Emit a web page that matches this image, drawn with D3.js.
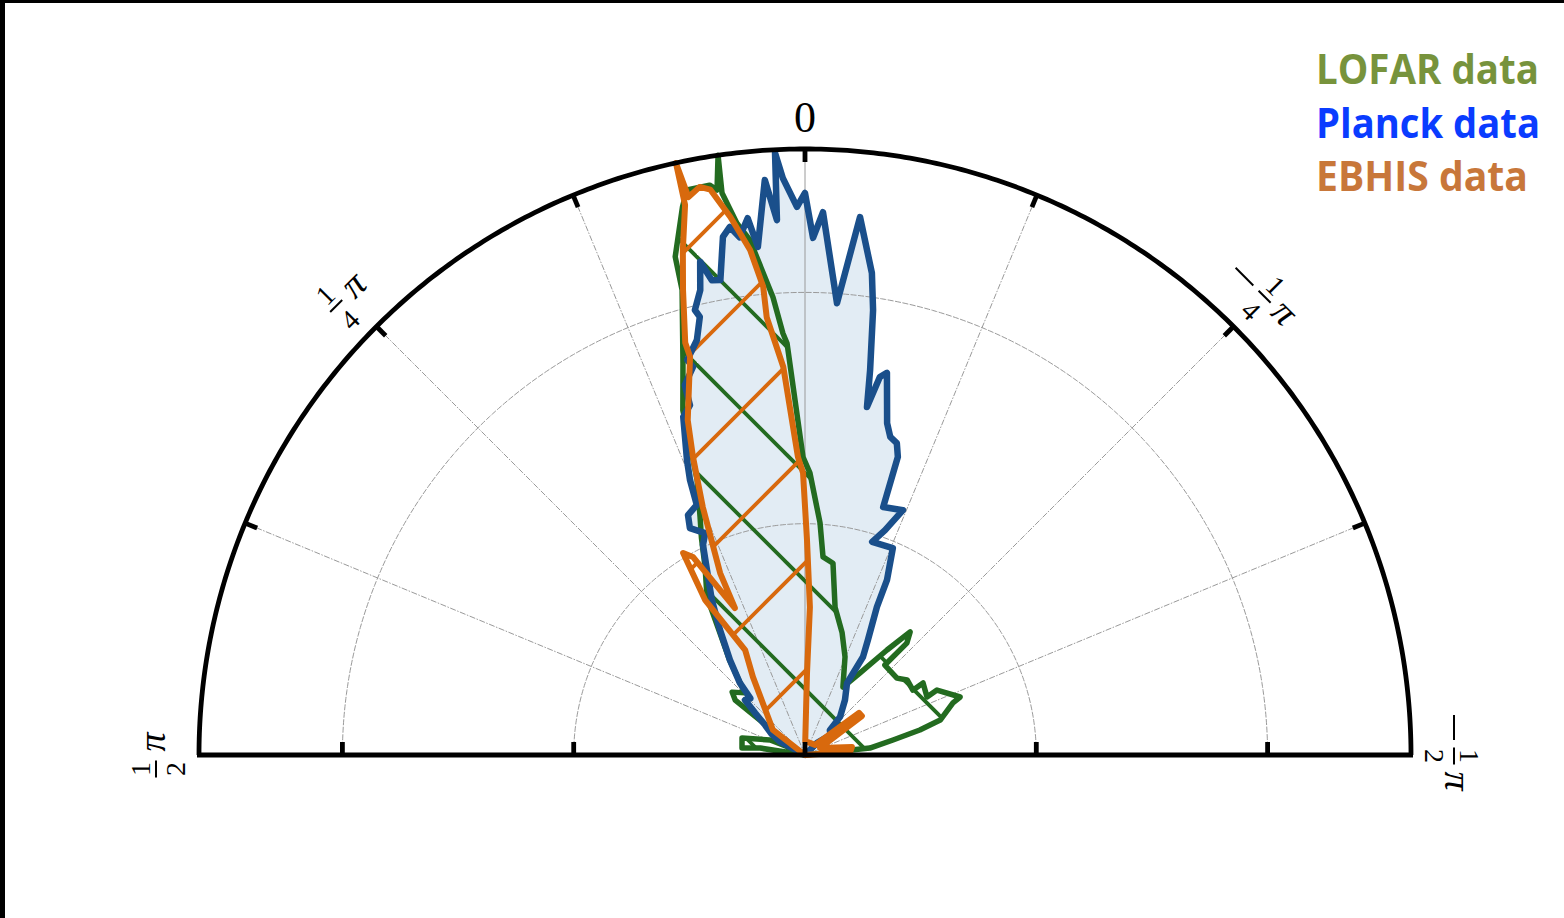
<!DOCTYPE html>
<html><head><meta charset="utf-8">
<script src="https://cdn.jsdelivr.net/npm/d3@7"></script>
<style>html,body{margin:0;padding:0;background:#fff;} svg{display:block}</style>
</head><body>
<svg id="chart" width="1564" height="918"></svg>
<script>
// ---------- DATA: [angle in degrees (positive = left of vertical), radius] ----------
const planck = [
 [0,0],[62,0.06],[58,0.085],[53.1,0.108],[50,0.14],[47.5,0.176],[44,0.17],[42.1,0.210],[38.3,0.262],[34.2,0.327],[31.0,0.391],
 [27.9,0.453],[25.9,0.505],[24.2,0.526],[26.9,0.550],[26.0,0.577],[23.4,0.589],[22.7,0.644],[21.8,0.687],
 [19.8,0.777],[18.2,0.796],[18.0,0.841],[16.1,0.873],[16.6,0.891],[14.6,0.927],[13.5,0.974],[13.9,0.991],
 [12.7,1.030],[12.0,1.090],[11.1,1.046],[10.1,1.043],[9.0,1.134],[8.1,1.153],[7.2,1.128],[6.1,1.167],
 [5.3,1.103],[4.0,1.246],[3.0,1.158],[2.85,1.303],[2.2,1.248],[0.84,1.185],[0,1.215],[-0.89,1.118],
 [-1.9,1.174],[-4.05,0.979],[-5.84,1.169],[-7.9,1.052],[-8.7,0.973],[-9.6,0.844],[-10.1,0.764],
 [-11.2,0.833],[-12.1,0.845],[-13.9,0.739],[-15.0,0.712],[-16.4,0.703],[-17.3,0.675],[-17.5,0.562],
 [-21.8,0.570],[-19.6,0.516],[-17.5,0.483],[-23.0,0.486],[-25.1,0.418],[-25.9,0.356],[-28.7,0.283],
 [-30.6,0.246],[-30.3,0.180],[-36,0.147],[-42.6,0.112],[-45,0.076],[-52,0.07],[-45,0.037],[0,0]
];
const lofar = [
 [0,0],[81.2,0.098],[83.7,0.137],[74.9,0.141],[66.8,0.082],[60,0.02],
 [51.8,0.192],[49.2,0.208],[44.1,0.187],[38.5,0.262],[34.5,0.330],[31.8,0.402],[28,0.46],[25.5,0.52],
 [23.8,0.562],[21.4,0.639],[19.5,0.791],[17.3,0.887],[14.8,1.040],[14.6,1.113],[12.6,1.214],[11.8,1.248],
 [9.5,1.249],[8.85,1.236],[8.25,1.31],[8.4,1.228],[7.3,1.159],[6.1,1.119],[4.0,0.992],[3.0,0.913],
 [2.5,0.891],[0.38,0.644],[-1.0,0.610],[-3.7,0.503],[-5.2,0.430],[-8.3,0.419],[-11.5,0.326],[-16.9,0.276],
 [-22.2,0.229],[-29.2,0.168],[-33.8,0.213],[-38.0,0.288],[-40.5,0.350],[-42.3,0.327],[-41.6,0.260],
 [-50.1,0.259],[-53.7,0.274],[-59.0,0.272],[-58.6,0.299],[-64.6,0.292],[-63.8,0.318],[-69.5,0.358],
 [-70.6,0.339],[-75.5,0.302],[-77.7,0.254],[-80.3,0.193],[-83.9,0.141],[0,0]
];
const ebhis = [
 [0,0],[52.0,0.088],[33.7,0.203],[29.7,0.261],[32.8,0.399],[31.1,0.510],[29.5,0.492],[25.5,0.352],
 [25.0,0.434],[22.4,0.580],[20.6,0.688],[19.3,0.767],[16.1,0.896],[16.2,0.928],[14.7,1.039],[13.6,1.123],
 [12.3,1.217],[12.3,1.31],[11.8,1.232],[10.5,1.249],[9.5,1.239],[7.9,1.174],[6.2,1.098],[5.1,1.016],
 [5.0,0.950],[3.2,0.840],[1.35,0.644],[0.4,0.610],[-0.53,0.465],[-1.9,0.320],[-1.4,0.177],[-1,0.03],
 [-45,0.031],[-52,0.148],[-55.6,0.149],[-65,0.036],[-80.3,0.103],[-86,0.098],[0,0]
];
const gridRadii = [0.5, 1.0];
const gridAngles = [-67.5, -45, -22.5, 0, 22.5, 45, 67.5];
const angleLabels = [
 {deg: 90, sign: "", num: "1", den: "2"},
 {deg: 45, sign: "", num: "1", den: "4"},
 {deg: -45, sign: "\u2212", num: "1", den: "4"},
 {deg: -90, sign: "\u2212", num: "1", den: "2"}
];
const legendNames = ["LOFAR data", "Planck data", "EBHIS data"];
const legendColors = ["#77933c", "#0a3cff", "#c8773a"];
const legendWidths = [223, 224, 212];

// ---------- LAYOUT ----------
const cx = 805, cy = 755, R = 606, RMAX = 1.31;
const svg = d3.select("#chart");
svg.append("rect").attr("width", 1564).attr("height", 918).attr("fill", "#fff");
svg.append("rect").attr("x", 0).attr("y", 0).attr("width", 1564).attr("height", 3).attr("fill", "#000");
svg.append("rect").attr("x", 0).attr("y", 0).attr("width", 5).attr("height", 918).attr("fill", "#000");

const rScale = d3.scaleLinear().domain([0, RMAX]).range([0, R]);
const aScale = d3.scaleLinear().domain([-90, 90]).range([Math.PI / 2, -Math.PI / 2]);
const radial = d3.lineRadial().angle(d => aScale(d[0])).radius(d => rScale(Math.min(d[1], RMAX)));
const closed = d3.lineRadial().angle(d => aScale(d[0])).radius(d => rScale(Math.min(d[1], RMAX))).curve(d3.curveLinearClosed);
const px = (deg, r) => [rScale(r) * Math.sin(aScale(deg)), -rScale(r) * Math.cos(aScale(deg))];

// hatch patterns (in local coords of the plot group)
const defs = svg.append("defs");
const pg = defs.append("pattern").attr("id", "hatchG").attr("patternUnits", "userSpaceOnUse")
  .attr("width", 108).attr("height", 108);
[[-4, 38, 70, 112], [62, -4, 112, 46]].forEach(s => pg.append("line")
  .attr("x1", s[0]).attr("y1", s[1]).attr("x2", s[2]).attr("y2", s[3])
  .attr("stroke", "#236b20").attr("stroke-width", 3.8));
const po = defs.append("pattern").attr("id", "hatchO").attr("patternUnits", "userSpaceOnUse")
  .attr("width", 108).attr("height", 108);
[[-4, 28, 28, -4], [20, 112, 112, 20]].forEach(s => po.append("line")
  .attr("x1", s[0]).attr("y1", s[1]).attr("x2", s[2]).attr("y2", s[3])
  .attr("stroke", "#d8690d").attr("stroke-width", 3.8));

const g = svg.append("g").attr("transform", `translate(${cx},${cy})`);

// Planck fill
g.append("path").datum(planck).attr("d", closed).attr("fill", "#e2ecf4");

// grid
const arcAngles = d3.range(-90, 90.01, 0.5);
gridRadii.forEach(r => g.append("path").datum(arcAngles.map(a => [a, r])).attr("d", radial)
  .attr("fill", "none").attr("stroke", "#9a9a9a").attr("stroke-width", 1).attr("stroke-dasharray", "6,1.5"));
gridAngles.forEach(a => {
  const p = px(a, RMAX);
  g.append("line").attr("x1", 0).attr("y1", 0).attr("x2", p[0]).attr("y2", p[1])
    .attr("stroke", "#9a9a9a").attr("stroke-width", 1).attr("stroke-dasharray", a === 0 ? null : "6,1.5,1.5,1.5");
});

// hatches
g.append("path").datum(lofar).attr("d", closed).attr("fill", "url(#hatchG)");
g.append("path").datum(ebhis).attr("d", closed).attr("fill", "url(#hatchO)");

// outlines
g.append("path").datum(lofar).attr("d", closed).attr("fill", "none").attr("stroke", "#236b20")
  .attr("stroke-width", 5.5).attr("stroke-linejoin", "round");
g.append("path").datum(planck).attr("d", closed).attr("fill", "none").attr("stroke", "#1a4f8b")
  .attr("stroke-width", 6.5).attr("stroke-linejoin", "round");
g.append("path").datum(ebhis).attr("d", closed).attr("fill", "none").attr("stroke", "#d8690d")
  .attr("stroke-width", 6).attr("stroke-linejoin", "round");

// frame
g.append("path").datum(arcAngles.map(a => [a, RMAX])).attr("d", radial)
  .attr("fill", "none").attr("stroke", "#000").attr("stroke-width", 4.8);
g.append("line").attr("x1", -R - 2).attr("x2", R + 2).attr("y1", 0).attr("y2", 0)
  .attr("stroke", "#000").attr("stroke-width", 4.8);
gridAngles.forEach(a => {
  const p1 = px(a, RMAX), p2 = px(a, RMAX * (1 - 13 / R));
  g.append("line").attr("x1", p1[0]).attr("y1", p1[1]).attr("x2", p2[0]).attr("y2", p2[1])
    .attr("stroke", "#000").attr("stroke-width", 4.8);
});
[-1, -0.5, 0, 0.5, 1].forEach(v => {
  const x = Math.sign(v) * rScale(Math.abs(v));
  g.append("line").attr("x1", x).attr("x2", x).attr("y1", 0).attr("y2", -13)
    .attr("stroke", "#000").attr("stroke-width", 4.8);
});

// angle labels
const serif = "'Liberation Serif','DejaVu Serif',serif";
{
  const p = px(0, RMAX);
  g.append("text").attr("x", 0).attr("y", p[1] - 17).attr("text-anchor", "middle")
    .attr("font-family", serif).attr("font-size", 44).text("0");
}
angleLabels.forEach(L => {
  const p = px(L.deg, RMAX * 649 / R);
  const rot = -L.deg;
  const lg = g.append("g").attr("transform", `translate(${p[0]},${p[1]}) rotate(${rot})`);
  let fc, pc;
  if (L.sign) {
    lg.append("line").attr("x1", -40).attr("x2", -15).attr("y1", 0).attr("y2", 0)
      .attr("stroke", "#000").attr("stroke-width", 2);
    fc = 1; pc = 26;
  } else { fc = -14; pc = 13; }
  lg.append("text").attr("x", fc).attr("y", -6).attr("text-anchor", "middle")
    .attr("font-family", serif).attr("font-size", 28).text(L.num);
  lg.append("line").attr("x1", fc - 8.5).attr("x2", fc + 8.5).attr("y1", 0).attr("y2", 0)
    .attr("stroke", "#000").attr("stroke-width", 2);
  lg.append("text").attr("x", fc).attr("y", 29).attr("text-anchor", "middle")
    .attr("font-family", serif).attr("font-size", 28).text(L.den);
  lg.append("text").attr("x", pc).attr("y", 9).attr("text-anchor", "middle")
    .attr("font-family", serif).attr("font-style", "italic").attr("font-size", 38).text("\u03c0");
});

// legend
legendNames.forEach((t, i) => {
  svg.append("text").attr("x", 1316).attr("y", 84 + i * 53.5)
    .attr("font-family", "'Open Sans',Lato,sans-serif").attr("font-weight", "bold")
    .attr("font-size", 42).attr("fill", legendColors[i])
    .attr("textLength", legendWidths[i]).attr("lengthAdjust", "spacingAndGlyphs").text(t);
});
</script>
</body></html>
